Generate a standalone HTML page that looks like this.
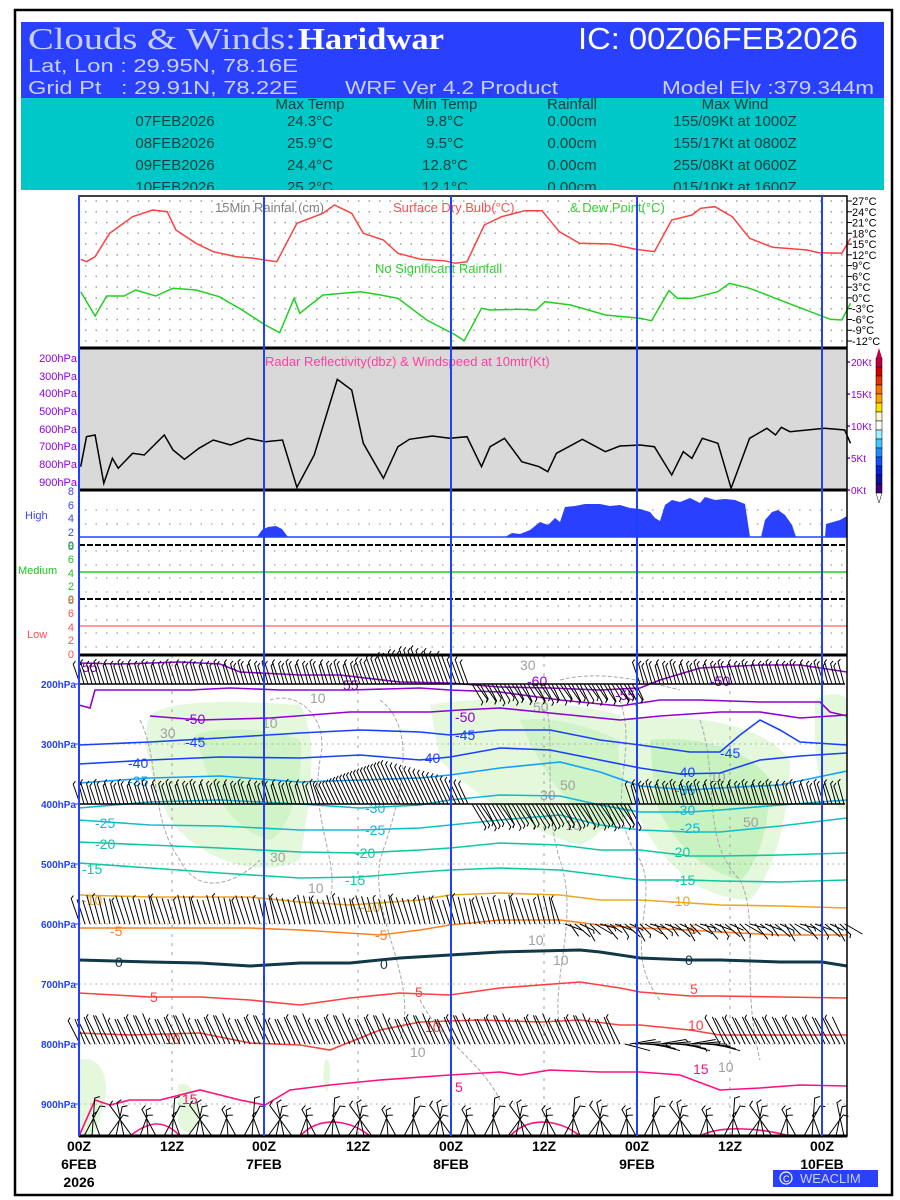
<!DOCTYPE html>
<html><head><meta charset="utf-8"><style>
html,body{margin:0;padding:0;background:#fff;}
svg{display:block;font-family:"Liberation Sans",sans-serif;}
</style></head><body>
<svg id="s" width="900" height="1200" viewBox="0 0 900 1200" xmlns="http://www.w3.org/2000/svg">
<rect x="0" y="0" width="900" height="1200" fill="#fff"/>
<rect x="15" y="10" width="877" height="1185" fill="none" stroke="#000" stroke-width="2.5"/>
<rect x="21" y="22" width="863" height="76" fill="#2a40ff"/>
<rect x="21" y="98" width="863" height="92" fill="#00c8c8"/>
<text x="28" y="49" font-family="Liberation Serif,serif" font-size="31" fill="#c8d0ff" textLength="268" lengthAdjust="spacingAndGlyphs">Clouds &amp; Winds:</text>
<text x="298" y="49" font-family="Liberation Serif,serif" font-size="31" font-weight="bold" fill="#fff" textLength="146" lengthAdjust="spacingAndGlyphs">Haridwar</text>
<text x="578" y="49" font-size="31" fill="#fff" textLength="280" lengthAdjust="spacingAndGlyphs">IC: 00Z06FEB2026</text>
<text x="28" y="72" font-size="18" fill="#c8d0ff" textLength="270" lengthAdjust="spacingAndGlyphs">Lat, Lon : 29.95N, 78.16E</text>
<text x="28" y="94" font-size="18" fill="#c8d0ff" textLength="270" lengthAdjust="spacingAndGlyphs">Grid Pt&#160;&#160; : 29.91N, 78.22E</text>
<text x="345" y="94" font-size="18" fill="#c8d0ff" textLength="213" lengthAdjust="spacingAndGlyphs">WRF Ver 4.2 Product</text>
<text x="662" y="94" font-size="18" fill="#c8d0ff" textLength="212" lengthAdjust="spacingAndGlyphs">Model Elv :379.344m</text>
<g font-size="15" fill="#104040" text-anchor="middle">
<text x="310" y="109">Max Temp</text><text x="445" y="109">Min Temp</text><text x="572" y="109">Rainfall</text><text x="735" y="109">Max Wind</text>
<text x="175" y="126">07FEB2026</text><text x="310" y="126">24.3°C</text><text x="445" y="126">9.8°C</text><text x="572" y="126">0.00cm</text><text x="735" y="126">155/09Kt at 1000Z</text>
<text x="175" y="148">08FEB2026</text><text x="310" y="148">25.9°C</text><text x="445" y="148">9.5°C</text><text x="572" y="148">0.00cm</text><text x="735" y="148">155/17Kt at 0800Z</text>
<text x="175" y="170">09FEB2026</text><text x="310" y="170">24.4°C</text><text x="445" y="170">12.8°C</text><text x="572" y="170">0.00cm</text><text x="735" y="170">255/08Kt at 0600Z</text>
<text x="175" y="192">10FEB2026</text><text x="310" y="192">25.2°C</text><text x="445" y="192">12.1°C</text><text x="572" y="192">0.00cm</text><text x="735" y="192">015/10Kt at 1600Z</text>
</g>
<rect x="21" y="190" width="863" height="4" fill="#fff"/>

<g id="tgrid"></g>
<g font-size="11" fill="#000" id="tlab"></g>
<text x="215" y="212" font-size="13" fill="#808080">15Min Rainfal (cm)</text>
<text x="393" y="212" font-size="13" fill="#ff5050">Surface Dry Bulb(°C)</text>
<text x="570" y="212" font-size="13" fill="#30d030">&amp; Dew Point(°C)</text>
<text x="375" y="273" font-size="13" fill="#30d030">No Significant Rainfall</text>
<polyline id="red" fill="none" stroke="#ff4040" stroke-width="1.5"/>
<polyline id="grn" fill="none" stroke="#20d020" stroke-width="1.5"/>

<rect x="79" y="348" width="768" height="142" fill="#d9d9d9"/>
<text x="265" y="366" font-size="13" fill="#ff40a0">Radar Reflectivity(dbz) &amp; Windspeed at 10mtr(Kt)</text>
<polyline id="blk" fill="none" stroke="#000" stroke-width="1.5"/>
<g font-size="11" fill="#9000e0" text-anchor="end">
<text x="77" y="362">200hPa</text><text x="77" y="380">300hPa</text><text x="77" y="397">400hPa</text><text x="77" y="415">500hPa</text><text x="77" y="433">600hPa</text><text x="77" y="450">700hPa</text><text x="77" y="468">800hPa</text><text x="77" y="486">900hPa</text>
</g>
<g font-size="10" fill="#9000e0">
<text x="851" y="366">20Kt</text><text x="851" y="398">15Kt</text><text x="851" y="430">10Kt</text><text x="851" y="462">5Kt</text><text x="851" y="494">0Kt</text>
</g>
<g stroke="#9000e0" stroke-width="1.5"><line x1="847" y1="362" x2="850" y2="362"/><line x1="847" y1="394" x2="850" y2="394"/><line x1="847" y1="426" x2="850" y2="426"/><line x1="847" y1="458" x2="850" y2="458"/><line x1="847" y1="490" x2="850" y2="490"/></g>
<g id="cbar"></g>

<g id="cgrid"></g>
<polygon fill="#2a40ff" points="257,537 262,530 268,527 276,526 282,529 288,537 505,537 512,533 520,534 530,530 540,522 548,525 555,518 560,522 565,507 575,506 585,504 600,504 610,506 620,505 630,508 640,509 650,512 655,518 660,521 665,505 672,500 680,502 690,498 700,503 705,497 715,500 725,499 735,500 745,504 750,537 761,537 765,520 772,512 778,510 785,515 792,525 796,537 825,537 826,524 833,522 840,520 847,516 847,537"/>
<line x1="79" y1="537" x2="847" y2="537" stroke="#2a40ff" stroke-width="1.5"/>
<line x1="79" y1="545" x2="847" y2="545" stroke="#000" stroke-width="2" stroke-dasharray="6,2"/>
<line x1="79" y1="572" x2="847" y2="572" stroke="#20d020" stroke-width="1.5"/>
<line x1="79" y1="599" x2="847" y2="599" stroke="#000" stroke-width="2" stroke-dasharray="6,2"/>
<line x1="79" y1="626" x2="847" y2="626" stroke="#ff6060" stroke-width="1.2"/>
<text x="25" y="519" font-size="11" fill="#4040ff">High</text>
<text x="18" y="574" font-size="11" fill="#20c020">Medium</text>
<text x="27" y="638" font-size="11" fill="#ff5050">Low</text>
<g font-size="11" text-anchor="end">
<g fill="#4040ff"><text x="74" y="495">8</text><text x="74" y="509">6</text><text x="74" y="522">4</text><text x="74" y="536">2</text><text x="74" y="549">0</text></g>
<g fill="#20c020"><text x="74" y="550">8</text><text x="74" y="563">6</text><text x="74" y="577">4</text><text x="74" y="590">2</text><text x="74" y="603">0</text></g>
<g fill="#ff5050"><text x="74" y="604">8</text><text x="74" y="617">6</text><text x="74" y="631">4</text><text x="74" y="644">2</text><text x="74" y="658">0</text></g>
</g>

<g id="low">
<path fill="#e4f8dc" d="M150,715 C170,700 230,700 300,705 C320,740 310,800 300,860 C260,880 200,860 170,820 C150,780 140,740 150,715Z"/>
<path fill="#d0f4c8" d="M195,735 C220,725 280,730 300,740 C305,780 290,830 270,840 C230,830 210,790 195,735Z"/>
<path fill="#e4f8dc" d="M430,705 C480,695 560,700 620,715 C640,760 620,830 580,845 C520,830 470,790 440,760Z"/>
<path fill="#d0f4c8" d="M520,720 C560,715 600,730 640,750 C650,790 640,820 600,830 C570,810 540,770 520,720Z"/>
<path fill="#e4f8dc" d="M620,720 C680,712 760,720 790,760 C790,820 770,880 750,900 C700,900 660,860 640,820 C620,790 615,750 620,720Z"/>
<path fill="#c8f2c0" d="M650,740 C700,735 750,750 770,780 C770,830 755,870 740,880 C700,870 670,840 655,800Z"/>
<path fill="#e4f8dc" d="M815,700 C830,690 847,695 847,700 L847,810 C830,810 815,780 815,740Z"/>
<path fill="#e4f8dc" d="M79,1060 C95,1055 110,1070 105,1100 C100,1120 95,1136 90,1136 L79,1136Z"/>
<path fill="#e4f8dc" d="M178,1085 C190,1080 200,1095 198,1120 C195,1136 180,1136 178,1120Z"/>
<path fill="#e4f8dc" d="M325,1060 C330,1055 332,1075 328,1090 C324,1095 322,1075 325,1060Z"/>
</g>
<g id="lgrid"></g>
<g fill="none" stroke="#a8a8a8" stroke-width="1" stroke-dasharray="4,2">
<path d="M140,720 C160,760 150,820 180,860 C200,900 240,880 260,860"/>
<path d="M270,700 C300,690 330,720 320,760 C310,820 340,860 330,900"/>
<path d="M380,700 C420,730 400,800 380,860 C370,920 420,980 400,1040"/>
<path d="M540,690 C560,720 540,800 560,860 C580,920 550,980 560,1030"/>
<path d="M620,700 C640,760 600,800 640,860 C660,900 620,950 660,1000"/>
<path d="M700,720 C720,780 700,840 740,880 C760,920 740,980 760,1060"/>
<path d="M560,680 C600,670 640,680 680,690"/>
<path d="M420,1000 C440,1040 480,1060 500,1100"/>
</g>
<g font-size="14" fill="#a0a0a0"><text x="520" y="670">30</text><text x="310" y="703">10</text><text x="533" y="712">50</text><text x="160" y="738">30</text><text x="262" y="728">10</text><text x="560" y="790">50</text><text x="540" y="800">30</text><text x="270" y="862">30</text><text x="308" y="893">10</text><text x="528" y="945">10</text><text x="553" y="965">10</text><text x="743" y="827">50</text><text x="710" y="782">10</text><text x="410" y="1057">10</text><text x="718" y="1072">10</text><text x="565" y="830">10</text></g>
<g fill="none" stroke-width="1.6">
<polyline stroke="#9000d0" points="79,663 120,664 180,662 220,664 240,672 300,675 340,675 400,682 450,683 500,687 550,688 600,690 640,688 660,680 700,668 760,665 800,665 847,672"/>
<polyline stroke="#9000d0" points="79,705 90,708 95,690 140,690 190,690 230,688 280,690 350,690 420,688 450,690 500,692 560,700 620,706 660,700 700,700 760,702 820,702 830,712 847,716"/>
<polyline stroke="#9000d0" points="150,716 200,720 270,718 350,712 430,712 460,710 500,708 560,714 620,720 660,716 720,712 760,712 800,718 847,715"/>
<polyline stroke="#1840ff" points="79,745 150,742 220,738 300,733 360,730 420,732 450,735 500,730 550,730 600,740 640,745 690,752 720,752 740,735 760,720 780,730 800,742 847,745"/>
<polyline stroke="#1840ff" points="79,764 150,760 220,757 300,758 360,755 420,760 450,757 500,748 550,750 600,760 640,768 680,774 720,773 760,760 800,756 847,753"/>
<polyline stroke="#10a0ff" points="79,783 150,778 220,776 300,782 360,780 420,778 450,775 500,768 560,762 600,772 640,786 690,790 720,788 780,785 847,771"/>
<polyline stroke="#10b8d8" points="79,808 150,802 220,800 300,804 360,808 420,805 450,800 500,795 560,796 600,805 640,812 690,812 720,810 780,805 847,800"/>
<polyline stroke="#10c0c8" points="79,820 150,825 220,826 300,830 360,830 420,828 450,825 500,820 560,815 600,825 640,830 690,832 720,832 780,826 847,818"/>
<polyline stroke="#10c8a0" points="79,842 150,845 220,848 300,852 360,853 420,850 450,848 500,843 560,845 600,850 640,850 690,856 720,856 780,855 847,853"/>
<polyline stroke="#10c8a0" points="79,863 150,868 220,873 300,878 360,877 420,872 450,870 500,868 560,870 600,875 640,880 690,880 720,881 780,882 847,880"/>
<polyline stroke="#e8a820" points="79,895 150,897 250,897 300,902 350,905 420,900 450,895 500,893 560,895 600,900 640,900 690,903 720,905 780,906 847,908"/>
<polyline stroke="#ff8020" points="79,928 150,928 250,928 300,930 380,935 420,930 450,925 500,920 560,920 600,925 640,928 690,930 720,932 780,935 847,935"/>
<polyline stroke="#103848" stroke-width="3" points="79,960 150,962 200,963 250,966 300,963 350,963 400,958 450,955 500,952 580,950 600,952 640,958 690,960 720,960 780,962 822,962 847,966"/>
<polyline stroke="#ff4040" points="79,993 150,997 200,997 250,1000 300,1005 350,998 400,993 450,995 500,988 580,982 620,988 640,992 690,996 720,996 780,997 847,998"/>
<polyline stroke="#ff4040" points="79,1033 130,1035 200,1033 250,1043 300,1045 330,1050 380,1030 420,1022 480,1020 540,1022 580,1020 620,1025 640,1025 690,1030 720,1035 780,1035 847,1035"/>
<polyline stroke="#ff1080" points="79,1136 95,1100 110,1105 130,1100 160,1100 200,1090 240,1100 265,1105 290,1090 330,1085 380,1080 450,1075 500,1072 520,1075 550,1070 600,1072 640,1072 680,1075 720,1090 760,1088 800,1085 847,1086"/>
<path stroke="#ff1080" d="M130,1136 C150,1120 165,1120 180,1136 M300,1136 C320,1115 350,1120 370,1136 M510,1136 C530,1115 560,1120 580,1136 M700,1136 C720,1125 760,1128 790,1136"/>
</g>
<g font-size="14">
<g fill="#9000d0"><text x="82" y="672">55</text><text x="343" y="690">55</text><text x="527" y="686">-60</text><text x="615" y="700">-55</text><text x="710" y="686">-50</text><text x="185" y="724">-50</text><text x="455" y="722">-50</text></g>
<g fill="#1840ff"><text x="185" y="747">-45</text><text x="455" y="740">-45</text><text x="720" y="758">-45</text><text x="128" y="768">-40</text><text x="420" y="763">-40</text><text x="675" y="777">-40</text></g>
<g fill="#10a0ff"><text x="128" y="786">-35</text><text x="675" y="795">-35</text></g>
<g fill="#10b8d8"><text x="365" y="813">-30</text><text x="675" y="815">-30</text><text x="95" y="828">-25</text><text x="365" y="835">-25</text><text x="680" y="833">-25</text></g>
<g fill="#10c8a0"><text x="95" y="849">-20</text><text x="355" y="858">-20</text><text x="670" y="857">-20</text><text x="82" y="874">-15</text><text x="345" y="885">-15</text><text x="675" y="885">-15</text></g>
<g fill="#e8a820"><text x="82" y="905">-10</text><text x="360" y="912">-10</text><text x="670" y="906">-10</text></g>
<g fill="#ff8020"><text x="110" y="936">-5</text><text x="375" y="940">-5</text><text x="685" y="934">-5</text></g>
<g fill="#103848"><text x="115" y="967">0</text><text x="380" y="969">0</text><text x="685" y="965">0</text></g>
<g fill="#ff4040"><text x="150" y="1002">5</text><text x="415" y="997">5</text><text x="690" y="994">5</text><text x="165" y="1044">10</text><text x="425" y="1032">10</text><text x="688" y="1030">10</text></g>
<g fill="#ff1080"><text x="182" y="1104">15</text><text x="455" y="1092">5</text><text x="693" y="1074">15</text></g>
</g>
<g id="barbs" stroke="#000" stroke-width="1" fill="none"></g>
<g font-size="10" fill="#2040ff" text-anchor="end" font-weight="bold">
<text x="76" y="688">200hPa</text><text x="76" y="748">300hPa</text><text x="76" y="808">400hPa</text><text x="76" y="868">500hPa</text><text x="76" y="928">600hPa</text><text x="76" y="988">700hPa</text><text x="76" y="1048">800hPa</text><text x="76" y="1108">900hPa</text>
</g>

<rect x="79" y="196" width="768" height="940" fill="none" stroke="#000" stroke-width="1.5"/>
<g stroke="#000" stroke-width="3"><line x1="79" y1="348" x2="847" y2="348"/><line x1="79" y1="490" x2="847" y2="490"/><line x1="79" y1="655" x2="847" y2="655"/><line x1="79" y1="1136" x2="847" y2="1136"/></g>
<g stroke="#2040ff" stroke-width="2"><line x1="79" y1="196" x2="79" y2="1136"/><line x1="264" y1="196" x2="264" y2="1136"/><line x1="451" y1="196" x2="451" y2="1136"/><line x1="637" y1="196" x2="637" y2="1136"/><line x1="822" y1="196" x2="822" y2="1136"/></g>

<g font-size="14" font-weight="bold" text-anchor="middle" fill="#000">
<text x="79" y="1151">00Z</text><text x="172" y="1151">12Z</text><text x="264" y="1151">00Z</text><text x="358" y="1151">12Z</text><text x="451" y="1151">00Z</text><text x="544" y="1151">12Z</text><text x="637" y="1151">00Z</text><text x="730" y="1151">12Z</text><text x="822" y="1151">00Z</text>
<text x="79" y="1169">6FEB</text><text x="264" y="1169">7FEB</text><text x="451" y="1169">8FEB</text><text x="637" y="1169">9FEB</text><text x="822" y="1169">10FEB</text>
<text x="79" y="1187">2026</text>
</g>
<rect x="773" y="1170" width="105" height="17" fill="#2a40ff"/>
<circle cx="786" cy="1178" r="6" fill="none" stroke="#fff" stroke-width="1.2"/>
<text x="783" y="1182" font-size="9" fill="#fff">C</text>
<text x="800" y="1183" font-size="13" fill="#c8d0ff">WEACLIM</text>
</svg>
<script>
var NS="http://www.w3.org/2000/svg";
function el(p,t,a){var e=document.createElementNS(NS,t);for(var k in a)e.setAttribute(k,a[k]);p.appendChild(e);return e;}
function $(i){return document.getElementById(i);}
function conv(a,oy){var s=[];for(var i=0;i<a.length;i+=2)s.push((a[i]*0.5766).toFixed(1)+","+(a[i+1]/3+oy).toFixed(1));return s.join(" ");}
$("red").setAttribute("points",conv([140,208,150,215,165,200,190,130,230,80,265,60,290,65,305,120,340,160,370,185,410,200,440,205,480,215,515,100,560,70,580,45,610,70,630,130,665,150,690,190,730,208,770,212,790,220,810,215,840,105,870,80,910,62,940,62,970,125,1005,160,1060,162,1100,177,1135,185,1165,90,1200,75,1215,55,1240,50,1270,80,1300,145,1340,172,1400,180,1420,188,1460,190,1475,145],190));
$("grn").setAttribute("points",conv([140,305,165,378,185,318,215,318,235,300,270,318,300,295,340,300,380,320,420,360,460,405,485,428,510,325,520,370,560,315,625,305,660,315,690,325,740,390,790,435,805,452,835,355,850,360,900,358,930,360,945,335,990,345,1050,375,1110,385,1130,392,1160,302,1175,325,1200,325,1245,305,1265,280,1300,295,1360,335,1440,388,1460,390,1475,340],190));
$("blk").setAttribute("points",conv([140,830,150,740,165,735,180,880,195,805,205,835,230,790,250,795,285,735,300,780,320,808,345,775,370,750,400,765,430,745,460,755,490,750,515,892,545,795,585,568,610,600,630,760,665,865,690,770,710,748,750,738,780,745,810,740,835,830,850,770,875,745,905,815,935,830,950,845,965,790,1010,748,1050,785,1075,768,1110,765,1135,770,1165,855,1185,785,1200,805,1218,745,1245,760,1268,895,1300,745,1330,715,1345,735,1355,712,1370,725,1430,715,1465,720,1475,760],190));
var tg=$("tgrid"),tl=$("tlab");
for(var i=0;i<=13;i++){var y=201+i*10.77;
 el(tg,"line",{x1:85,y1:y,x2:847,y2:y,stroke:"#a0a0a0","stroke-dasharray":"1.5,9","stroke-width":1.5});
 el(tg,"line",{x1:847,y1:y,x2:852,y2:y,stroke:"#000"});
 var t=el(tl,"text",{x:852,y:y+4});t.textContent=(27-3*i)+"°C";}
var cg=$("cgrid");
[510,524,551,565,578,592,606,620,633,647].forEach(function(y){el(cg,"line",{x1:85,y1:y,x2:847,y2:y,stroke:"#b0b0b0","stroke-dasharray":"1.5,9","stroke-width":1.5});});
var lg=$("lgrid");
[684,744,804,864,924,984,1044,1104].forEach(function(y){el(lg,"line",{x1:79,y1:y,x2:847,y2:y,stroke:"#a0a0a0","stroke-dasharray":"1.5,4"});el(lg,"line",{x1:75,y1:y,x2:79,y2:y,stroke:"#2040ff"});});
[172,358,544,730].forEach(function(x){el(lg,"line",{x1:x,y1:655,x2:x,y2:1136,stroke:"#a0a0a0","stroke-dasharray":"3,6"});});
var cols=["#c00040","#d00000","#e83000","#ff7000","#ffa000","#ffe000","#fff8d0","#ffffff","#a0f0ff","#40c8ff","#1890ff","#1050ff","#0820e0","#1010a0","#400080"];
var cb=$("cbar");
cols.forEach(function(c,i){el(cb,"rect",{x:876,y:358+i*9,width:6,height:9,fill:c,stroke:"#000","stroke-width":0.5});});
el(cb,"polygon",{points:"876,358 879,348 882,358",fill:"#c00040"});
el(cb,"polygon",{points:"876,493 879,503 882,493",fill:"#fff",stroke:"#000","stroke-width":0.5});
var bg=$("barbs");
function barb(x,y,ang,L,tk){var r=ang*Math.PI/180,dx=Math.sin(r)*L,dy=-Math.cos(r)*L;
 var x2=x+dx,y2=y+dy,s="M"+x.toFixed(1)+","+y.toFixed(1)+"L"+x2.toFixed(1)+","+y2.toFixed(1);
 if(tk){var tx=Math.cos(r)*tk+Math.sin(r)*2,ty=Math.sin(r)*tk-Math.cos(r)*2;s+="l"+tx.toFixed(1)+","+ty.toFixed(1);}
 return s;}
function j(x,m){return ((x*37)%m)-m/2;}
function row(y,x0,x1,step,fn,bw){var d="";for(var x=x0;x<=x1;x+=step){var p=fn(x);d+=barb(x,y,p[0],p[1],(x%4==0)?3:0);}el(bg,"path",{d:d});if(bw)el(bg,"line",{x1:x0,y1:y,x2:x1,y2:y,"stroke-width":bw});}
row(684,80,845,4,function(x){if(x>470&&x<640)return[150+j(x,14),20+j(x,6)];if(x>360&&x<470)return[-20,24+Math.max(0,14-Math.abs(x-420)/4)+j(x,6)];return[-15+j(x,8),22+j(x,6)];},1.5);
row(804,80,845,4,function(x){if(x>320&&x<470)return[-25,22+Math.max(0,25-Math.abs(x-400)/3)+j(x,4)];if(x>=470&&x<630)return[150+j(x,10),26+j(x,6)];return[-15+j(x,8),22+j(x,6)];},1.5);
row(924,80,845,5,function(x){if(x>560)return[130+j(x,50),20+j(x,10)];return[-15+j(x,8),28+j(x,6)];},0);
row(1044,80,845,5,function(x){if(x>620&&x<720)return[95+j(x,30),26];if(x>=720)return[-25+j(x,10),30];return[-22+j(x,10),30+j(x,8)];},0);
(function(){var d="";for(var x=84;x<=845;x+=8){var a=-40+((x*37)%80),L=22+((x*13)%20);d+=barb(x,1136,a,L,5);}el(bg,"path",{d:d});})();
</script>
</body></html>
